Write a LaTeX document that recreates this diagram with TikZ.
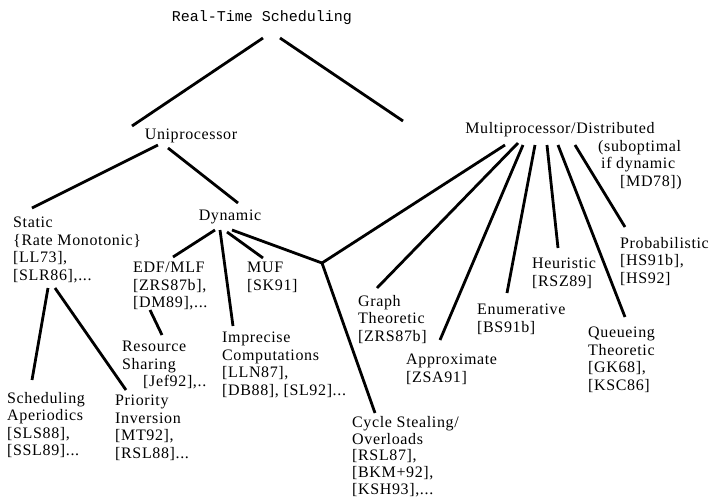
\documentclass[tikz,border=0pt]{standalone}
\usepackage{fontspec}
\setmainfont[LetterSpace=4]{Liberation Serif}
\setmonofont{Liberation Mono}
\usepackage{tikz}
\usetikzlibrary{positioning}

\begin{document}
\begin{tikzpicture}
                [x=1pt, y=-1pt,
                 lbl/.style = {inner sep=0pt, align=left, font=\fontsize{16}{17.5}\selectfont},
                 box/.style = {lbl, anchor=north west},
                 edge/.style = {line width=2.8pt}]
    \useasboundingbox (0,0) rectangle (710,499);

                \node[lbl, font=\ttfamily\fontsize{15}{17}\selectfont] (title) at (262,18) {Real-Time Scheduling};
                \node[lbl] (uni) at (191,136) {Uniprocessor};
                \node[lbl] (multi) at (560,130) {Multiprocessor/Distributed};
                \node[box] (subopt) at (598,140) {(suboptimal\\\hspace*{3pt}if dynamic\\\hspace*{22pt}[MD78])};

                \node[box] (static) at (13,217) {Static\\\{Rate Monotonic\}\\{[LL73]},\\{[SLR86]},...};
                \node[lbl] (dyn) at (230,217) {Dynamic};
                \node[box] (edf) at (133,262) {EDF/MLF\\{[ZRS87b]},\\{[DM89]},...};
                \node[box] (muf) at (247,262) {MUF\\{[SK91]}};
                \node[box] (res) at (122,341) {Resource\\Sharing\\\hspace*{21pt}[Jef92],..};
                \node[box] (imp) at (222,332) {Imprecise\\Computations\\{[LLN87]},\\{[DB88]}, [SL92]...};
                \node[box] (sched) at (7,392) {Scheduling\\Aperiodics\\{[SLS88]},\\{[SSL89]}...};
                \node[box] (prio) at (115,395) {Priority\\Inversion\\{[MT92]},\\{[RSL88]}...};
                \node[box, font=\fontsize{16}{16.8}\selectfont] (cycle) at (352,416) {Cycle Stealing/\\Overloads\\{[RSL87]},\\{[BKM+92]},\\{[KSH93]},...};

                \node[box] (graph) at (358,295) {Graph\\Theoretic\\{[ZRS87b]}};
                \node[box] (approx) at (406,354) {Approximate\\{[ZSA91]}};
                \node[box] (enum) at (477,304) {Enumerative\\{[BS91b]}};
                \node[box] (heur) at (532,258) {Heuristic\\{[RSZ89]}};
                \node[box] (queue) at (588,327) {Queueing\\Theoretic\\{[GK68]},\\{[KSC86]}};
                \node[box] (prob) at (620,237) {Probabilistic\\{[HS91b]},\\{[HS92]}};

                \coordinate (split) at (322,263);

                \draw[edge] ([shift={(1,20)}]title.center) -- ([shift={(-59,-10)}]uni.center);
                \draw[edge] ([shift={(18,20)}]title.center) -- ([shift={(-157,-9)}]multi.center);

                \draw[edge] ([shift={(-33,9)}]uni.center) -- ([shift={(19,-9)}]static.north west);
                \draw[edge] ([shift={(-23,12)}]uni.center) -- ([shift={(8,-14)}]dyn.center);
                \draw[edge] ([shift={(35,71)}]static.north west) -- ([shift={(25,-12)}]sched.north west);
                \draw[edge] ([shift={(42,71)}]static.north west) -- ([shift={(11,-5)}]prio.north west);

                \draw[edge] ([shift={(-15,13)}]dyn.center) -- ([shift={(40,-5)}]edf.north west);
                \draw[edge] ([shift={(-10,13)}]dyn.center) -- ([shift={(11,-6)}]imp.north west);
                \draw[edge] ([shift={(-3,15)}]dyn.center) -- ([shift={(16,-4)}]muf.north west);
                \draw[edge] ([shift={(2,13)}]dyn.center) -- (split);
                \draw[edge] ([shift={(17,48)}]edf.north west) -- ([shift={(40,-6)}]res.north west);
                \draw[edge] (split) -- ([shift={(23,-3)}]cycle.north west);

                \draw[edge] ([shift={(-55,15)}]multi.center) -- (split);
                \draw[edge] ([shift={(-42,13)}]multi.center) -- ([shift={(19,-7)}]graph.north west);
                \draw[edge] ([shift={(-37,15)}]multi.center) -- ([shift={(34,-14)}]approx.north west);
                \draw[edge] ([shift={(-25,15)}]multi.center) -- ([shift={(30,-11)}]enum.north west);
                \draw[edge] ([shift={(-13,15)}]multi.center) -- ([shift={(26,-10)}]heur.north west);
                \draw[edge] ([shift={(-2,15)}]multi.center) -- ([shift={(37,-10)}]queue.north west);
                \draw[edge] ([shift={(15,15)}]multi.center) -- ([shift={(5,-10)}]prob.north west);
            \end{tikzpicture}
\end{document}
